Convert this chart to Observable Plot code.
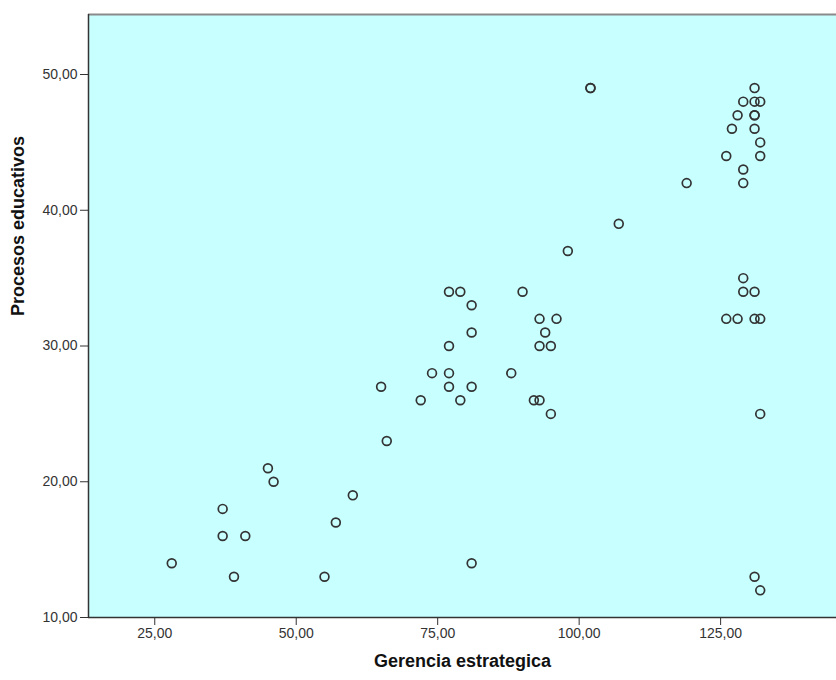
<!DOCTYPE html>
<html>
<head>
<meta charset="utf-8">
<script src="https://cdn.jsdelivr.net/npm/d3@7"></script>
<script src="https://cdn.jsdelivr.net/npm/@observablehq/plot@0.6"></script>
<style>
  html, body { margin: 0; padding: 0; background: #fff; }
  #chart { width: 836px; height: 680px; }
</style>
</head>
<body>
<div id="chart"></div>
<script>
// Data
const gerencia = [28, 37, 37, 41, 39, 45, 46, 55, 57, 60, 65, 66, 72, 74, 77, 79, 77, 77, 77, 79, 81, 81, 81, 81, 88, 90, 92, 93, 93, 96, 94, 93, 95, 95, 98, 102, 102, 107, 119, 126, 127, 128, 129, 131, 131, 132, 131, 131, 131, 132, 132, 129, 129, 129, 129, 131, 126, 128, 131, 132, 132, 131, 132];
const procesos = [14, 18, 16, 16, 13, 21, 20, 13, 17, 19, 27, 23, 26, 28, 34, 34, 30, 28, 27, 26, 33, 31, 27, 14, 28, 34, 26, 26, 32, 32, 31, 30, 30, 25, 37, 49, 49, 39, 42, 44, 46, 47, 48, 49, 48, 48, 47, 47, 46, 45, 44, 43, 42, 35, 34, 34, 32, 32, 32, 32, 25, 13, 12];
const xTicks = [25, 50, 75, 100, 125];
const yTicks = [10, 20, 30, 40, 50];
const xDomain = [13.29, 145.48];
const yDomain = [10, 54.42];
const xLabel = "Gerencia estrategica";
const yLabel = "Procesos educativos";

const points = gerencia.map((g, i) => ({x: g, y: procesos[i]}));
const fmt = d => d.toFixed(2).replace(".", ",");

const chart = Plot.plot({
  width: 836,
  height: 680,
  marginLeft: 88,
  marginTop: 14,
  marginRight: 0,
  marginBottom: 63,
  style: {fontFamily: "'Liberation Sans', Arial, sans-serif", fontSize: "14px", color: "#333", background: "#fff"},
  x: {domain: xDomain, ticks: xTicks, tickFormat: fmt, tickSize: 8, tickPadding: 3, label: null},
  y: {domain: yDomain, ticks: yTicks, tickFormat: fmt, tickSize: 8, tickPadding: 3, label: null},
  marks: [
    Plot.frame({fill: "#c8ffff", stroke: "none"}),
    Plot.ruleY([yDomain[1]], {stroke: "#8a8a8a", strokeWidth: 2}),
    Plot.ruleX([xDomain[0]], {stroke: "#333", strokeWidth: 1.5}),
    Plot.ruleY([yDomain[0]], {stroke: "#333", strokeWidth: 1.5}),
    Plot.dot(points, {x: "x", y: "y", r: 4.4, stroke: "#333", strokeWidth: 1.7, fill: "none"}),
    Plot.text([xLabel], {text: d => d, frameAnchor: "bottom", dy: 49, fontSize: 18, fontWeight: "bold", fill: "#111"}),
    Plot.text([yLabel], {text: d => d, frameAnchor: "left", dx: -70, rotate: -90, fontSize: 18, fontWeight: "bold", fill: "#111"})
  ]
});
document.getElementById("chart").appendChild(chart);
</script>
</body>
</html>
